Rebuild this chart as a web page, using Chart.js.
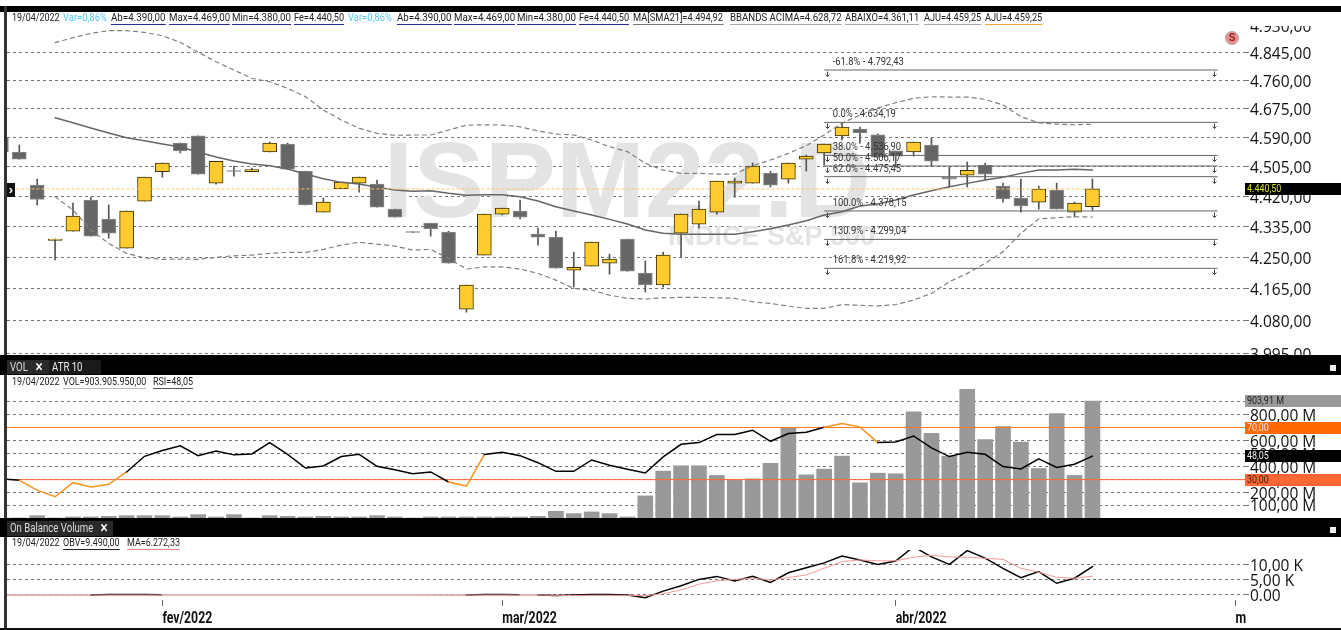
<!DOCTYPE html>
<html lang="pt-BR">
<head>
<meta charset="utf-8">
<title>ISPM22.D</title>
<script src="https://cdn.jsdelivr.net/npm/chart.js@4"></script>
<style>
  html,body{margin:0;padding:0;background:#fff;width:1341px;height:630px;overflow:hidden}
  canvas{position:absolute;left:0;display:block}
  #ov div,#ov span{position:absolute;white-space:nowrap}
  #ov span{transform:scaleX(.8);transform-origin:left center}
  #ov{position:absolute;left:0;top:0;width:1341px;height:630px;font:11.2px/12px "Roboto",sans-serif;color:#222}
</style>
</head>
<body>
<canvas id="main" width="1341" height="329" style="top:26px"></canvas>
<canvas id="vol" width="1341" height="129" style="top:389px"></canvas>
<canvas id="obv" width="1341" height="76" style="top:550px"></canvas>
<div id="ov"></div>
<script>
/* index k of every array = candle number k-1 (k=0 is the partly hidden candle at the left edge) */
const opens = [4588,4547,4451.5,4296,4322,4409,4355.7,4275,4406,4490,4573,4594,4457,4491.5,4490,4547,4570,4491.5,4375,4441.5,4457,4454,4383.5,4320,4344,4319,4111,4256,4369.5,4378,4313.7,4305.4,4215,4226,4234,4300,4207,4175,4316.5,4341.5,4375,4457,4457,4486,4468.6,4526,4544,4594,4614,4597,4550,4547,4567,4474,4480,4509,4448.6,4414.5,4403,4437.5,4375,4390];
const closes = [4547,4526,4410.5,4300,4364,4308,4316.5,4378,4474,4515,4550,4483,4520,4490.5,4496,4573,4497,4395,4403,4460,4474,4389,4361,4318,4327.7,4234,4175,4369.5,4386,4361,4305.4,4220.5,4223,4291.6,4245,4212,4175,4256,4369.5,4383.5,4463,4463,4506,4451.5,4515,4535,4570,4620,4603,4532,4535,4576,4520,4468.6,4494,4483,4412,4392,4440,4383.5,4400,4440.5];
const highs  = [4588,4567,4468.6,4300,4400,4417,4395,4378,4474,4515,4573,4594,4520,4506,4500,4576,4573,4491.5,4414.5,4460,4474,4466,4383.5,4320,4344,4322,4175,4369.5,4386,4409,4330,4322,4264,4291.6,4258.7,4300,4240,4264,4369.5,4406,4463,4471.5,4515,4491.5,4515,4538,4570,4632,4620,4600,4550,4576,4588,4503,4518,4515,4457,4468.6,4448.6,4457,4403,4469];
const lows   = [4547,4526,4395,4242.5,4322,4308,4302.6,4275,4406,4474,4544,4483,4454,4477,4490,4547,4497,4395,4375,4441.5,4431.5,4389,4361,4318,4308,4234,4103,4256,4367,4355.7,4283.4,4220.5,4169.5,4226,4204.4,4212,4156,4169.5,4250.5,4330,4369.5,4417,4457,4446,4457,4491.5,4509,4582,4573,4532,4503,4535,4506,4446,4446,4466,4403,4375,4383.5,4383.5,4361,4380];
const sma21 = [null,null,null,4648,4633,4617.4,4602.6,4588.7,4580,4570.2,4561.4,4546.8,4532.4,4520.6,4512,4507,4497.4,4483,4469.5,4459.2,4454.4,4445,4437.4,4433.7,4435.4,4428,4422.2,4424,4424,4418.3,4406,4390,4378,4366.6,4354.6,4341.5,4325,4315.7,4313,4313,4313,4313,4320.2,4328.5,4339,4350.8,4366.6,4376,4392,4397.6,4409,4423,4435,4446.5,4456.3,4466,4474,4485,4494.5,4494.5,4496.6,4494.92];
const bbUpper = [null,null,null,4877.1,4892.8,4906.5,4914.7,4914.7,4909.6,4899,4878.3,4847,4818,4792.4,4767,4756.6,4736.5,4711,4671,4641.2,4616.5,4601.7,4595.8,4596.7,4596.7,4611.4,4626,4627,4626,4621,4608.5,4599.7,4596.7,4582,4562.4,4548,4514,4494.5,4485,4485,4483,4483,4507,4523.5,4543,4565.3,4596.7,4632,4656,4677,4693,4706,4711,4710,4710,4703,4686,4651,4633,4629,4627,4628.72];
const bbLower = [null,null,null,4418.3,4381,4325,4288,4260.6,4248.6,4244.3,4245,4244.3,4249.7,4254,4256,4260.6,4263.3,4263.3,4271.5,4283.4,4291,4286,4280.6,4269.7,4271.5,4247,4218,4224,4224,4218,4206.3,4188.3,4166,4161.5,4148,4139.5,4137.5,4141,4142,4142,4141,4139.5,4130.5,4126,4119,4113,4113,4123,4121,4119.5,4123,4135,4152.7,4183.7,4206.3,4233.4,4265,4315.7,4355.7,4359,4362,4361.11];
const volumeM = [0,0,18,0,8,8,13,18,18,18,8,26,8,26,0,18,13,8,13,8,8,18,8,0,8,8,8,8,8,8,13,52,34,47,34,8,171,363,404,404,329,295,303,422,697,334,378,479,272,347,342,821,655,479,997,606,707,588,383,808,329,903.91];
const rsi = [30.7,29.5,22,16.9,27.7,24.3,26.4,35.9,47.9,52.3,55.9,48.4,52,49,49.7,58.4,49.4,38.9,40.5,47.7,49.4,40.2,37.6,34.6,35.9,28.2,25.1,49.2,51,48.4,43,36.4,36.4,45.1,41,37.9,35.1,47.4,57.1,58.4,64.6,64.6,67.9,59.4,65.3,66.4,70.1,73,70.5,58.4,58.9,63.5,54.3,47.7,51,49.4,40,38.2,45.9,39.4,41.8,48.05];
const obvK = [0,0,0,0,0,0,0.2,0.2,0.2,0.1,0.1,0.1,0.1,0.1,0.1,0.1,0.1,0.1,0.1,0.1,0.1,0.1,0.1,0.1,0,-0.1,0,0.2,0.2,0.1,0,-0.2,0,0.2,0.2,0,-0.9,1.3,3.1,5.2,6.2,4.7,6.2,4.2,7.4,9.1,10.7,13,11.7,10.2,11.3,16.1,12.7,10.2,14.8,12.3,8.9,5.8,7.8,3.9,5.6,9.49];
const obvMaK = [0,0,0,0,0,0,0,0,0,0,0,0,0,0,0,0,0,0,0,0,0,0,0,0,0,0,0,0,0,0,0,-0.1,-0.2,-0.1,-0.1,-0.1,-0.2,0.4,1.7,3.6,4.7,5.2,5.6,5,5.8,6.7,8.9,11.1,11.7,11.4,11.4,12.6,13.2,12.7,12.6,12.2,11.9,8.9,7.6,5.9,5.6,6.27];

const priceTicks = [4930,4845,4760,4675,4590,4505,4420,4335,4250,4165,4080,3995];
const volumeTicks = [100,200,300,400,500,600,700,800,900];
const volumeTicksCovered = [700,900];
const obvTicks = [0,5,10];
const obvTickLabels = ["0.00","5,00 K","10,00 K"];
const monthTickIndex = [8,27,49,68];
const monthLabels = ["fev/2022","mar/2022","abr/2022","m"];
const fibLevels = [4792.43,4634.19,4536.90,4506.17,4475.45,4378.15,4299.04,4219.92];
const fibLabels = ["-61.8% - 4.792,43","0.0% - 4.634,19","38.0% - 4.536,90","50.0% - 4.506,17","62.0% - 4.475,45","100.0% - 4.378,15","130.9% - 4.299,04","161.8% - 4.219,92"];
const fibFrom = 45, fibTo = 67;
const rsiLimits = [70,30];

const XMIN = -0.688, XMAX = 68.53;
const pts = a => a.map((y,k)=>({x:k-1,y}));
const fmt = v => v.toLocaleString('pt-BR',{minimumFractionDigits:2,maximumFractionDigits:2});
const lineDs = (a,o)=>Object.assign({type:'line',data:pts(a),pointRadius:0,tension:0,borderCapStyle:'round'},o);
const hLine = (y,x0,x1,o)=>Object.assign({type:'line',data:[{x:x0,y},{x:x1,y}],pointRadius:0},o);

function xScale(show){
  return {type:'linear',min:XMIN,max:XMAX,display:show,offset:false,
    afterBuildTicks(s){s.ticks=monthTickIndex.map(v=>({value:v}));
      /* the reference uses a narrow face: draw the tick labels horizontally condensed */
      s.drawLabels=function(area){const g=this.ctx;this.getLabelItems(area).forEach(it=>{
        const o=it.options;g.save();g.font=it.font.string;g.fillStyle=o.color;g.textAlign='left';g.textBaseline=o.textBaseline;
        g.translate(o.translation[0],o.translation[1]);g.scale(.77,1);g.fillText(it.label,0,it.textOffset);g.restore();});};},
    afterFit(s){s.paddingLeft=0;s.paddingRight=0;if(show)s.height=26;},
    grid:{drawOnChartArea:false,drawTicks:true,tickLength:6,tickColor:'#666',color:'#666'},
    border:{display:false},
    ticks:{autoSkip:false,maxRotation:0,align:'start',padding:3,color:'#111',
      font:{family:'"Roboto",sans-serif',size:16,weight:'bold'},
      callback(v){const i=monthTickIndex.indexOf(v);return i<0?'':monthLabels[i];}}};
}
function yScale(cfg){
  return Object.assign({position:'right',
    afterFit(s){s.width=96;s.paddingTop=0;s.paddingBottom=0;},
    grid:{color:'#777',tickColor:'#777',lineWidth:1,tickLength:4,drawTicks:true},
    border:{display:false,dash:[3,3]},
  },cfg,{ticks:Object.assign({autoSkip:false,padding:1,labelOffset:2,color:'#111',font:{family:'"Open Sans",sans-serif',size:15.5}},cfg.ticks)});
}
const base = ()=>({responsive:false,animation:false,events:[],maintainAspectRatio:false,
  layout:{padding:{left:7,right:0,top:0,bottom:0}},
  plugins:{legend:{display:false},tooltip:{enabled:false}}});

/* main pane */
const up = opens.map((o,i)=>closes[i]>=o);
const bodyData = opens.map((o,i)=>({x:i-1,y:[o,closes[i]]}));
const wickData = highs.map((h,i)=>({x:i-1,y:[lows[i],h]}));
const watermark = {id:'watermark',beforeDatasetsDraw(c){
  const g=c.ctx;g.save();g.fillStyle='#e4e4e4';g.textBaseline='alphabetic';g.textAlign='right';
  g.font='bold 107px "Liberation Sans",sans-serif';g.fillText('ISPM22.D',871,217-26);
  g.font='bold 27px "Liberation Sans",sans-serif';g.fillText('INDICE S&P 500',875,245-26);
  g.restore();}};
const fibDecor = {id:'fibDecor',afterDatasetsDraw(c){
  const g=c.ctx,X=c.scales.x,Y=c.scales.y;g.save();
  g.font='11.2px "Roboto",sans-serif';g.textBaseline='middle';g.textAlign='left';
  fibLevels.forEach((lv,i)=>{
    const y=Math.round(Y.getPixelForValue(lv))+.5,x0=X.getPixelForValue(fibFrom),x1=X.getPixelForValue(fibTo);
    g.fillStyle='#333';g.save();g.translate(x0+8.5,y-8);g.scale(.84,1);g.fillText(fibLabels[i],0,0);g.restore();
    g.strokeStyle='#444';g.lineWidth=1;
    [x0+3,x1-4].forEach(x=>{x=Math.round(x)+.5;g.beginPath();g.moveTo(x,y+1);g.lineTo(x,y+6);
      g.moveTo(x-2,y+4);g.lineTo(x,y+6);g.lineTo(x+2,y+4);g.stroke();});
  });
  g.restore();}};
new Chart(document.getElementById('main'),{type:'bar',
  data:{datasets:[
    hLine(closes[closes.length-1],-1,60,{borderColor:'#fbc56a',borderWidth:1,borderDash:[3,2],order:1}),
    ...fibLevels.map(v=>hLine(v,fibFrom,fibTo,{borderColor:'#666',borderWidth:1,order:2})),
    lineDs(sma21,{borderColor:'#666',borderWidth:1.5,order:3}),
    lineDs(bbUpper,{borderColor:'#808080',borderWidth:1.2,borderDash:[4,4],order:3}),
    lineDs(bbLower,{borderColor:'#808080',borderWidth:1.2,borderDash:[4,4],order:3}),
    {type:'bar',data:bodyData,grouped:false,barThickness:14,minBarLength:1,order:4,
      backgroundColor:up.map(u=>u?'#ffcb2f':'#666'),
      borderColor:up.map(u=>u?'#3a3000':'#8a8a8a'),borderWidth:1,borderSkipped:false},
    {type:'bar',data:wickData,grouped:false,barThickness:1,order:5,backgroundColor:'#555',borderWidth:0}
  ]},
  options:Object.assign(base(),{scales:{
    x:xScale(false),
    y:yScale({type:'logarithmic',min:3991.8,max:4929.6,
      afterBuildTicks(s){s.ticks=priceTicks.map(v=>({value:v}));},
      ticks:{callback:v=>fmt(v)}})}}),
  plugins:[watermark,fibDecor]});

/* volume + RSI pane */
const ORANGE='#f7931e';
new Chart(document.getElementById('vol'),{type:'bar',
  data:{datasets:[
    lineDs(rsi,{yAxisID:'rsiAxis',borderColor:'#000',borderWidth:1.5,order:1,
      segment:{borderColor:c=>(c.p0.parsed.y>=70||c.p0.parsed.y<30)?ORANGE:undefined}}),
    hLine(rsiLimits[0],-1,69,{yAxisID:'rsiAxis',borderColor:'#ff7a1a',borderWidth:1,order:2}),
    hLine(rsiLimits[1],-1,69,{yAxisID:'rsiAxis',borderColor:'#ff6a33',borderWidth:1,order:2}),
    {type:'bar',data:pts(volumeM),grouped:false,barThickness:15,order:3,backgroundColor:'#999',borderWidth:0}
  ]},
  options:Object.assign(base(),{scales:{
    x:xScale(false),
    y:yScale({type:'linear',min:0,max:998,
      afterBuildTicks(s){s.ticks=volumeTicks.map(v=>({value:v}));},
      ticks:{callback:v=>volumeTicksCovered.includes(v)?'':fmt(v)+' M'}}),
    rsiAxis:{axis:'y',type:'linear',display:false,min:0.6,max:99.5}}})});

/* OBV pane */
new Chart(document.getElementById('obv'),{type:'line',
  data:{datasets:[
    lineDs(obvMaK,{borderColor:'#f29a9a',borderWidth:1,order:1}),
    lineDs(obvK,{borderColor:'#000',borderWidth:1.5,order:2,
      segment:{borderColor:c=>(Math.abs(c.p0.parsed.y)<.15&&Math.abs(c.p1.parsed.y)<.15)?'#c8c8c8':undefined}})
  ]},
  options:Object.assign(base(),{scales:{
    x:xScale(true),
    y:yScale({type:'linear',min:-1.67,max:15,
      afterBuildTicks(s){s.ticks=obvTicks.map(v=>({value:v}));},
      ticks:{callback:v=>obvTickLabels[obvTicks.indexOf(v)]}})}})});

/* terminal chrome and info strips (real text) */
const ov=document.getElementById('ov');
function rect(l,t,w,h,bg){const d=document.createElement('div');d.style.cssText=`left:${l}px;top:${t}px;width:${w}px;height:${h}px;background:${bg}`;ov.appendChild(d);return d;}
function text(l,t,s,o={},par=ov){const d=document.createElement('span');d.textContent=s;d.style.left=l+'px';d.style.top=t+'px';
  if(o.c)d.style.color=o.c; if(o.u)d.style.borderBottom='1px solid '+o.u; if(o.f)d.style.fontSize=o.f+'px'; if(o.w)d.style.fontWeight=o.w;
  if(o.sx)d.style.transform='scaleX('+o.sx+')';par.appendChild(d);return d;}
rect(0,6,1341,6,'#000');
rect(4,6,3,622,'#333');
rect(0,355,1341,5,'#000');
rect(0,360,1341,15,'#000');
rect(7,360,42,14,'#2a2a2a');rect(49,360,52,14,'#1a1a1a');
rect(0,518,1341,19,'#000');
rect(7,521,106,15,'#2a2a2a');
rect(0,628,1341,2,'#111');
rect(1330,365,6,6,'#eee');rect(1330,527,6,6,'#eee');
const U='#2a2a9a',W=.87,F=.82;
[[11.5,'19/04/2022',{}],[63,'Var=0,86%',{c:'#55c8f5',sx:.84}],[111,'Ab=4.390,00',{u:U,sx:W}],[168.5,'Max=4.469,00',{u:U,sx:W}],[232,'Min=4.380,00',{u:U,sx:W}],[293.5,'Fe=4.440,50',{u:U,sx:F}],
 [348,'Var=0,86%',{c:'#55c8f5',sx:.84}],[397,'Ab=4.390,00',{u:U,sx:W}],[453.5,'Max=4.469,00',{u:U,sx:W}],[517,'Min=4.380,00',{u:U,sx:W}],[578.5,'Fe=4.440,50',{u:U,sx:F}],
 [633,'MA[SMA21]=4.494,92',{u:'#777',sx:.83}],[730,'BBANDS ACIMA=4.628,72',{u:'#aaa',sx:.86}],[844.6,'ABAIXO=4.361,11',{u:'#aaa',sx:.84}],[923.5,'AJU=4.459,25',{u:'#aaa',sx:F}],[985,'AJU=4.459,25',{u:'#f2a13a',sx:F}]
].forEach(a=>text(a[0],12,a[1],a[2]));
[[11.5,'19/04/2022',{}],[62.8,'VOL=903.905.950,00',{u:'#bbb'}],[152.5,'RSI=48,05',{u:'#555'}]].forEach(a=>text(a[0],376,a[1],a[2]));
[[11.5,'19/04/2022',{}],[62.8,'OBV=9.490,00',{u:'#222'}],[126.5,'MA=6.272,33',{u:'#f08a8a'}]].forEach(a=>text(a[0],537,a[1],a[2]));
text(10,361,'VOL',{c:'#ddd',f:12});text(35,361,'✕',{c:'#fff',f:12,w:'bold'});text(52,361,'ATR 10',{c:'#eee',f:12});
text(10,522,'On Balance Volume',{c:'#ddd',f:12});text(100,522,'✕',{c:'#fff',f:12,w:'bold'});
function box(t,s,bg,c){const d=rect(1245,t,96,12,bg);text(2,0,s,{c},d);}
box(183,'4.440,50','#000','#d9e021');
box(395,'903,91 M','#999','#222');
box(422,'70,00','#ff6a00','#fde');
box(450,'48,05','#000','#eee');
box(474,'30,00','#ff6633','#321');
/* left price marker and S badge */
const b=rect(7,183,8,14,'#111');b.textContent='›';b.style.cssText+=';color:#fff;font:bold 13px/13px "Liberation Sans",sans-serif;text-align:center';
const s=rect(1225,31,14,14,'#f08c8c');s.textContent='S';s.style.cssText+=';border-radius:50%;box-sizing:border-box;border:1px solid #aaa;color:#8a2a2a;font:bold 10px/12px "Liberation Sans",sans-serif;text-align:center';
</script>
</body>
</html>
